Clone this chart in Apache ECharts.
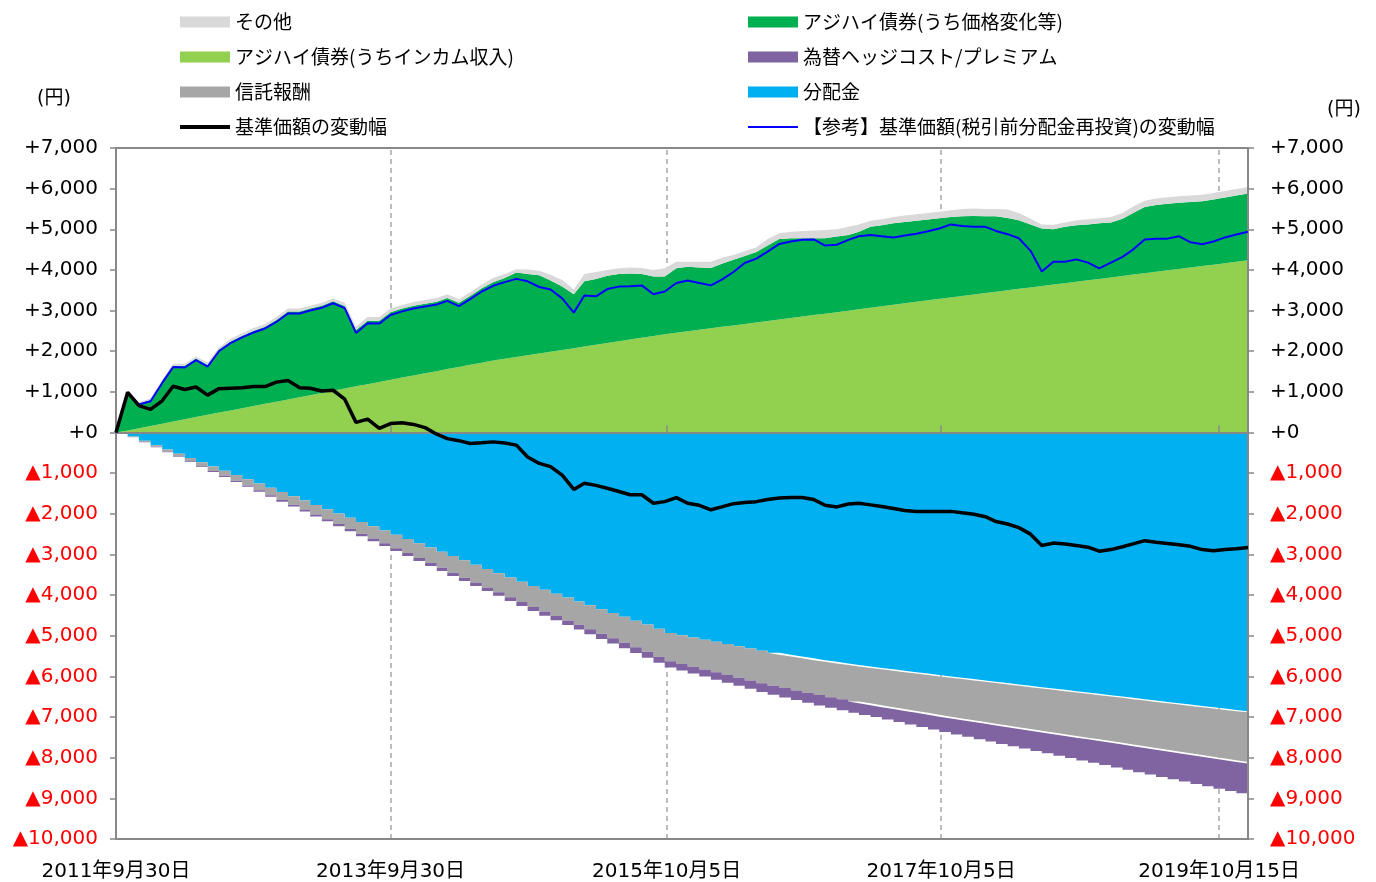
<!DOCTYPE html>
<html><head><meta charset="utf-8">
<script src="https://cdn.jsdelivr.net/npm/echarts@6/dist/echarts.min.js"></script>
<style>html,body{margin:0;padding:0;background:#fff}#c{width:1376px;height:882px}</style>
</head><body><div id="c"></div>
<script>
// month-end observations starting 2011-09-30 (100 months)
const startYear = 2011, startMonthIndex = 8, monthCount = 100;
const tickLabelDates = [[2011,9,30],[2013,9,30],[2015,10,5],[2017,10,5],[2019,10,15]];

const income = [0,50,105,160,215,270,325,380,435,490,
545,598,650,705,758,812,866,920,974,1028,
1082,1136,1190,1245,1300,1352,1404,1456,1508,1560,
1612,1665,1718,1770,1814,1857,1900,1944,1987,2030,
2074,2117,2160,2204,2247,2290,2334,2377,2420,2456,
2492,2528,2564,2600,2636,2672,2708,2745,2781,2817,
2853,2889,2925,2961,2997,3034,3070,3107,3144,3180,
3217,3253,3290,3325,3360,3395,3430,3465,3500,3535,
3570,3605,3640,3675,3710,3745,3780,3815,3850,3885,
3920,3955,3990,4025,4060,4095,4130,4165,4200,4240];

const priceChange = [0,940,615,640,1035,1370,1315,1440,1225,1550,
1695,1782,1850,1895,2012,2168,2114,2130,2146,2202,
2028,1384,1560,1505,1660,1698,1716,1714,1712,1750,
1578,1695,1832,1930,1986,2083,2000,1926,1753,1560,
1326,1603,1620,1656,1653,1620,1566,1463,1420,1584,
1588,1532,1486,1550,1614,1668,1732,1855,1979,1963,
1927,1891,1855,1859,1863,1906,1990,1993,2006,2000,
1993,1987,1980,1975,1960,1935,1890,1855,1780,1685,
1550,1415,1360,1385,1390,1375,1370,1355,1410,1515,
1630,1645,1640,1625,1610,1595,1600,1615,1630,1640];

const other = [0,20,30,40,50,50,50,50,60,60,
60,60,70,70,70,70,70,70,70,70,
80,90,90,90,90,90,90,90,90,90,
90,90,90,100,100,80,110,110,140,160,
120,180,170,140,140,150,150,160,200,160,
120,140,150,150,120,120,120,160,140,160,
180,190,200,180,200,180,150,150,150,160,
160,160,160,170,180,180,180,180,210,180,
140,100,110,110,120,130,120,130,140,160,
150,160,160,160,160,160,160,160,160,160];

const dividend = [0,-100,-205,-310,-415,-520,-625,-730,-835,-940,
-1045,-1150,-1255,-1360,-1465,-1570,-1675,-1780,-1885,-1990,
-2095,-2200,-2305,-2410,-2515,-2620,-2725,-2830,-2935,-3040,
-3145,-3250,-3355,-3460,-3565,-3670,-3775,-3870,-3965,-4060,
-4155,-4250,-4345,-4440,-4535,-4630,-4725,-4830,-4930,-4985,
-5040,-5095,-5150,-5205,-5260,-5315,-5370,-5420,-5465,-5510,
-5555,-5600,-5640,-5680,-5720,-5755,-5790,-5825,-5860,-5895,
-5930,-5965,-6000,-6033,-6066,-6099,-6132,-6165,-6198,-6231,
-6264,-6297,-6330,-6363,-6396,-6429,-6462,-6495,-6528,-6561,
-6594,-6627,-6660,-6693,-6726,-6759,-6792,-6825,-6855,-6880];

const trustFee = [0,-14,-28,-42,-56,-70,-84,-98,-112,-126,
-140,-154,-168,-182,-195,-208,-221,-234,-247,-260,
-274,-288,-302,-316,-330,-346,-362,-378,-394,-410,
-425,-440,-455,-470,-486,-501,-516,-531,-547,-562,
-577,-592,-608,-623,-638,-654,-669,-685,-700,-712,
-724,-736,-749,-761,-773,-785,-798,-810,-822,-834,
-847,-859,-871,-883,-896,-908,-920,-932,-944,-955,
-967,-978,-990,-1000,-1010,-1020,-1030,-1040,-1050,-1060,
-1070,-1080,-1090,-1100,-1110,-1120,-1130,-1140,-1150,-1160,
-1170,-1180,-1190,-1200,-1210,-1220,-1230,-1240,-1250,-1260];

const hedgeCost = [0,-3,-6,-9,-12,-15,-18,-21,-24,-27,
-30,-33,-36,-38,-41,-44,-47,-50,-53,-56,
-59,-62,-65,-67,-70,-72,-74,-76,-78,-80,
-82,-84,-86,-88,-92,-96,-100,-104,-108,-112,
-116,-120,-124,-129,-134,-139,-144,-147,-150,-158,
-166,-174,-182,-190,-198,-206,-214,-222,-230,-238,
-246,-254,-262,-270,-278,-284,-290,-305,-320,-335,
-350,-365,-380,-395,-410,-425,-440,-455,-470,-485,
-500,-515,-530,-545,-560,-575,-590,-605,-620,-635,
-650,-665,-680,-695,-710,-725,-740,-755,-772,-790];

const navChange = [0,990,660,570,780,1140,1060,1120,920,1080,
1090,1100,1130,1130,1240,1280,1100,1090,1020,1040,
820,250,330,100,220,240,200,120,-40,-150,
-200,-270,-250,-230,-260,-310,-600,-760,-840,-1050,
-1400,-1250,-1300,-1370,-1450,-1530,-1530,-1740,-1700,-1600,
-1740,-1790,-1900,-1830,-1750,-1720,-1700,-1650,-1610,-1600,
-1600,-1650,-1790,-1830,-1760,-1740,-1780,-1820,-1870,-1920,
-1940,-1940,-1940,-1940,-1975,-2010,-2070,-2190,-2250,-2340,
-2500,-2780,-2720,-2740,-2780,-2820,-2920,-2880,-2810,-2740,
-2660,-2700,-2730,-2760,-2800,-2880,-2910,-2880,-2860,-2830];

const navReinvest = [0,980,690,770,1220,1610,1600,1780,1620,2000,
2200,2340,2460,2560,2720,2930,2930,3000,3070,3180,
3060,2450,2690,2680,2890,2980,3050,3100,3150,3240,
3110,3280,3470,3610,3700,3780,3720,3580,3520,3300,
2950,3370,3350,3530,3590,3600,3620,3400,3470,3680,
3740,3680,3620,3760,3950,4170,4280,4450,4640,4700,
4740,4750,4600,4620,4740,4830,4860,4830,4800,4850,
4890,4950,5020,5120,5080,5060,5060,4960,4880,4780,
4470,3960,4200,4200,4260,4180,4040,4180,4320,4500,
4750,4770,4770,4830,4680,4630,4700,4800,4870,4940];

const names = {
  other: 'その他', price: 'アジハイ債券(うち価格変化等)', income: 'アジハイ債券(うちインカム収入)',
  hedge: '為替ヘッジコスト/プレミアム', fee: '信託報酬', div: '分配金',
  nav: '基準価額の変動幅', navRe: '【参考】基準価額(税引前分配金再投資)の変動幅'
};

const dates = [];
for (let i = 0; i < monthCount; i++) dates.push(new Date(startYear, startMonthIndex + i + 1, 0).getTime());
const tickValues = tickLabelDates.map(d => new Date(d[0], d[1]-1, d[2]).getTime());
const pair = arr => arr.map((v, k) => [dates[k], v]);

const JP = '"Noto Sans CJK JP", sans-serif';
const NUM = '"DejaVu Sans", "Noto Sans CJK JP", sans-serif';
const fmtNum = v => Math.abs(v).toLocaleString('en-US');
const yFmt = v => v > 0 ? '+' + fmtNum(v) : (v == 0 ? '+0' : '▲' + fmtNum(v));
const yColor = v => Number(v) < 0 ? '#FF0000' : '#000000';
const dateFmt = v => { const d = new Date(Number(v)); return d.getFullYear() + '年' + (d.getMonth()+1) + '月' + d.getDate() + '日'; };

function area(name, data, color, step) {
  return {
    name, type: 'line', stack: 'total', data: pair(data), symbol: 'none',
    step: step || false, color: color, xAxisIndex: 0, yAxisIndex: 0,
    lineStyle: { width: 0, color: color }, itemStyle: { color: color },
    areaStyle: { color: color, opacity: 1 }, z: 2, silent: true
  };
}

const series = [
  Object.assign(area(names.income, income, '#92D050'), {
    markLine: {
      silent: true, symbol: ['none','none'], z: 1, animation: false,
      label: { show: false },
      lineStyle: { color: '#A6A6A6', type: [5, 4], width: 1.5 },
      data: tickValues.slice(1).map(t => ({ xAxis: t }))
    }
  }),
  area(names.price, priceChange, '#00B050'),
  area(names.other, other, '#D9D9D9'),
  area(names.div, dividend, '#00B0F0', 'end'),
  area(names.fee, trustFee, '#A6A6A6', 'end'),
  area(names.hedge, hedgeCost, '#8064A2', 'end'),
  { name: names.navRe, type: 'line', data: pair(navReinvest), symbol: 'none', color: '#0000FF',
    xAxisIndex: 0, yAxisIndex: 0, lineStyle: { width: 2, color: '#0000FF' }, z: 11, silent: true },
  { name: names.nav, type: 'line', data: pair(navChange), symbol: 'none', color: '#000000',
    xAxisIndex: 0, yAxisIndex: 0, lineStyle: { width: 3.5, color: '#000000' }, z: 12, silent: true }
];

const thickIcon = 'path://M0,0H50V4H0Z';
const thinIcon = 'path://M0,0H50V2H0Z';
const legendBase = {
  orient: 'vertical', top: 7, itemWidth: 50, itemHeight: 11, itemGap: 15,
  selectedMode: false, symbolKeepAspect: true,
  textStyle: { fontSize: 19, fontFamily: JP, color: '#000', lineHeight: 20 }
};

const xMin = dates[0], xMax = dates[monthCount-1];
const chart = echarts.init(document.getElementById('c'), null, { renderer: 'canvas' });
chart.setOption({
  animation: false,
  backgroundColor: '#fff',
  grid: { left: 116, right: 128, top: 148, bottom: 42, show: true, borderColor: '#888', borderWidth: 2, z: 10 },
  legend: [
    Object.assign({}, legendBase, { left: 175, data: [
      { name: names.other, icon: 'rect' },
      { name: names.income, icon: 'rect' },
      { name: names.fee, icon: 'rect' },
      { name: names.nav, icon: thickIcon }
    ]}),
    Object.assign({}, legendBase, { left: 743, data: [
      { name: names.price, icon: 'rect' },
      { name: names.hedge, icon: 'rect' },
      { name: names.div, icon: 'rect' },
      { name: names.navRe, icon: thinIcon }
    ]})
  ],
  graphic: [
    { type: 'text', left: 37, top: 90, style: { text: '(円)', fontSize: 19, fontFamily: NUM, fill: '#000' } },
    { type: 'text', left: 1327, top: 101, style: { text: '(円)', fontSize: 19, fontFamily: NUM, fill: '#000' } }
  ],
  xAxis: [
    // data axis (time) used by the series
    { type: 'time', min: xMin, max: xMax, position: 'bottom',
      axisLine: { show: false, onZero: false }, axisTick: { show: false },
      splitLine: { show: false }, axisLabel: { show: false } },
    // label axis with custom tick dates
    { type: 'value', min: xMin, max: xMax, position: 'bottom',
      axisLine: { show: false, onZero: false }, axisTick: { show: false }, splitLine: { show: false },
      axisLabel: { customValues: tickValues, fontSize: 20, fontFamily: NUM, color: '#000', margin: 23,
        hideOverlap: false, showMinLabel: true, showMaxLabel: true, formatter: dateFmt } },
    // zero line with tick marks
    { type: 'value', min: xMin, max: xMax, position: 'top', z: 10,
      axisLine: { show: true, onZero: true, lineStyle: { color: '#888', width: 2 } },
      axisTick: { show: true, customValues: tickValues.slice(1), length: 7, inside: false, lineStyle: { color: '#888', width: 1.5 } },
      axisLabel: { show: false }, splitLine: { show: false } }
  ],
  yAxis: [
    { type: 'value', position: 'left', min: -10000, max: 7000, interval: 1000,
      axisLine: { show: false, onZero: false }, splitLine: { show: false },
      axisTick: { show: true, length: 6, lineStyle: { color: '#888', width: 1.5 } },
      axisLabel: { formatter: yFmt, color: yColor, fontSize: 20, fontFamily: NUM, margin: 18 } },
    { type: 'value', position: 'right', min: -10000, max: 7000, interval: 1000,
      axisLine: { show: false, onZero: false }, splitLine: { show: false },
      axisTick: { show: true, length: 6, lineStyle: { color: '#888', width: 1.5 } },
      axisLabel: { formatter: yFmt, color: yColor, fontSize: 20, fontFamily: NUM, margin: 22 } }
  ],
  series: series
});
</script>
</body></html>
